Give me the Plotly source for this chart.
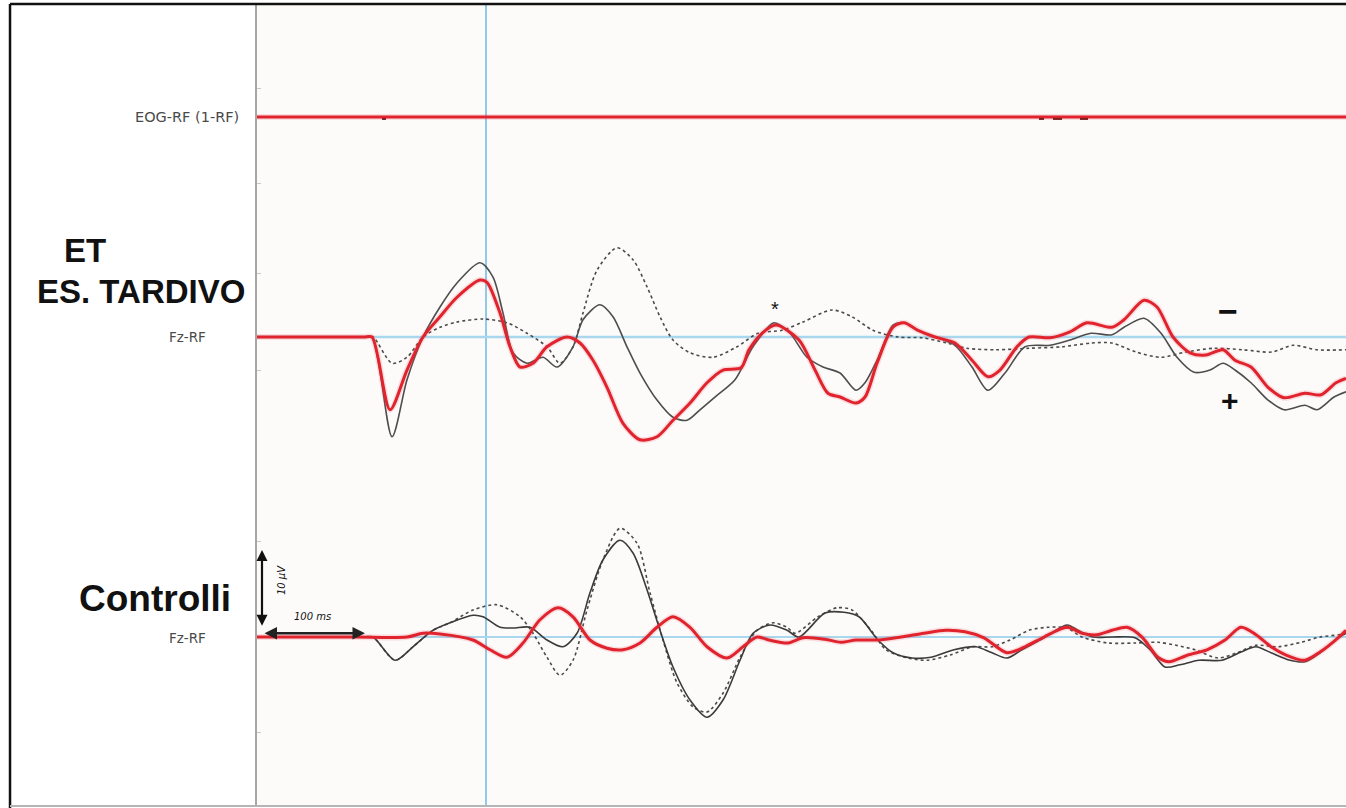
import numpy as np
import plotly.graph_objects as go

# ---------------- data (time in ms relative to marker, amplitude in µV, negative up) -------------
et_red_t = [-229, -180, -140, -122, -114, -96, -79, -63, -46, -29, -6, 1, 14, 24, 34, 47, 61, 81, 94, 107, 121, 137, 154,
            171, 187, 204, 221, 237, 255, 263, 276, 290, 313, 329, 342, 354, 370, 379, 391, 407, 418, 432, 449,
            469, 486, 502, 514, 531, 543, 564, 584, 601, 626, 638, 658, 671, 687, 704, 720, 737, 749, 765, 782,
            798, 819, 835, 850, 860]
et_red_v = [0, 0, 0, 0, 0, 9.7, 4.4, 0, -2.7, -5.3, -7.6, -7.3, -3.2, 1.3, 4.0, 3.5, 1.3, 0, 0.8, 3.1, 6.7, 11.5, 13.7,
            13.3, 11.1, 8.8, 6.1, 4.4, 4.1, 1.7, -0.5, -1.6, 0.4, 4.4, 7.5, 8.0, 8.8, 8.0, 3.5, -1.3, -1.9, -0.9, 0,
            0.8, 3.1, 5.3, 4.4, 1.3, 0, 0.1, -0.7, -1.9, -1.3, -2.3, -4.9, -4.0, 0, 2.1, 2.4, 1.7, 3.1, 4.0, 6.7,
            8.1, 7.5, 7.7, 6.1, 5.5]

et_black_t = [-229, -180, -140, -122, -114, -94, -79, -63, -46, -29, -6, 7, 17, 27, 41, 57, 71, 87, 97, 114, 127, 141, 154,
              171, 187, 201, 214, 229, 249, 267, 288, 304, 321, 337, 354, 370, 379, 391, 407, 418, 432, 449, 469,
              486, 502, 519, 539, 564, 584, 605, 626, 638, 658, 675, 691, 708, 724, 737, 749, 765, 782, 798, 819,
              831, 848, 860]
et_black_v = [0, 0, 0, 0, 0, 13.3, 5.7, 0, -4.0, -7.2, -9.9, -8.0, -3.2, 2.1, 3.5, 2.7, 4.0, 1.3, -2.3, -4.3, -2.7, 1.3, 4.8,
              8.4, 10.7, 11.1, 9.7, 8.0, 5.7, 1.3, -1.9, -0.5, 2.7, 4.0, 4.8, 7.1, 6.1, 3.1, -1.6, -1.9, -0.9, 0, 1.1,
              4.0, 7.1, 4.8, 1.3, 1.1, 0.4, -0.5, -0.3, -1.3, -2.5, -0.5, 2.7, 4.7, 4.4, 3.5, 4.4, 6.1, 8.4, 9.7, 9.1,
              9.7, 8.0, 7.3]

et_dot_t = [-229, -180, -140, -122, -113, -94, -79, -63, -46, -29, -3, 21, 41, 61, 74, 87, 97, 111, 131, 147, 161, 174, 187,
            204, 227, 251, 272, 296, 317, 346, 366, 387, 412, 436, 461, 481, 510, 543, 576, 605, 626, 650, 675,
            700, 728, 757, 786, 807, 831, 860]
et_dot_v = [0, 0, 0, 0, 0, 3.5, 2.7, 0, -1.3, -2.0, -2.4, -1.9, -0.5, 1.3, 3.5, 1.3, -3.2, -8.9, -11.9, -10.3, -6.7, -2.7, 0.4,
            2.1, 2.7, 1.3, -0.5, -0.9, -2.0, -3.6, -2.7, -0.9, 0, 0.1, 0.8, 1.5, 1.7, 1.5, 1.3, 0.8, 0.8, 2.0, 2.7,
            2.0, 1.5, 1.7, 2.0, 1.1, 1.7, 1.7]

ct_black_t = [-229, -180, -140, -122, -113, -91, -73, -53, -36, -13, -3, 14, 27, 44, 61, 77, 91, 104, 117, 134, 147, 161, 174,
              187, 204, 221, 237, 254, 267, 284, 301, 313, 339, 358, 373, 392, 407, 426, 445, 468, 490, 506, 521,
              536, 558, 581, 592, 607, 626, 649, 664, 679, 694, 713, 736, 755, 770, 785, 804, 819, 834, 853, 860]
ct_black_v = [0, 0, 0, 0, 0, 3.1, 1.3, -0.9, -1.9, -2.9, -2.7, -1.3, -1.2, -1.3, 0.4, 1.3, -0.5, -5.9, -10.3, -12.9, -11.2, -6.3, -0.9,
              4.0, 8.4, 10.7, 8.4, 3.1, -0.5, -1.6, -0.9, 0, -3.2, -3.3, -2.7, 0.4, 2.1, 2.8, 2.7, 1.7, 1.3, 2.1, 2.8,
              1.7, 0.1, -1.6, -0.9, 0, 0, 0.1, 1.7, 4.0, 3.7, 3.1, 3.1, 2.0, 1.3, 2.1, 3.1, 3.3, 2.1, 0, -0.5]

ct_dot_t = [-229, -180, -140, -122, -113, -91, -73, -53, -36, -13, 11, 34, 47, 61, 74, 87, 101, 117, 134, 151, 164, 177, 191,
            207, 221, 237, 254, 271, 287, 301, 309, 332, 351, 366, 385, 400, 422, 441, 464, 487, 506, 524, 543,
            562, 581, 596, 622, 649, 672, 690, 709, 732, 751, 770, 792, 815, 834, 853, 860]
ct_dot_v = [0, 0, 0, 0, 0, 3.1, 1.3, -0.9, -1.9, -3.6, -4.3, -2.7, -0.5, 2.7, 5.1, 3.1, -3.6, -10.3, -14.5, -12.5, -5.9, 0.4, 6.1,
            9.3, 10.0, 7.5, 2.7, -0.9, -1.9, -1.3, -0.5, -2.7, -3.9, -3.6, -0.9, 1.7, 2.8, 3.1, 2.4, 1.3, 1.3, 0.4, -0.9,
            -1.3, -1.2, 0, 0.8, 0.8, 0.7, 1.1, 1.7, 2.8, 2.1, 1.1, 1.3, 0.7, 0, -0.3, -0.5]

ct_red_t = [-229, -180, -130, -79, -63, -46, -13, 4, 21, 37, 54, 72, 87, 104, 121, 137, 154, 171, 187, 204, 221, 241,
            257, 271, 283, 302, 317, 339, 355, 370, 392, 415, 438, 460, 479, 498, 521, 539, 558, 581, 596, 611,
            626, 641, 656, 672, 683, 702, 721, 739, 755, 770, 785, 800, 819, 834, 853, 860]
ct_red_v = [0, 0, 0, 0, -0.5, -0.4, 0.4, 1.7, 2.7, 0.8, -2.3, -3.9, -2.7, 0.4, 1.5, 1.7, 0.8, -1.3, -2.7, -1.3, 1.3, 2.8,
            1.3, 0, 0.4, 0.8, 0.1, 0.3, 0.7, 0.4, 0.4, 0, -0.5, -0.9, -0.7, 0.1, 2.1, 1.3, 0, -1.3, -0.5, -0.3,
            -0.9, -1.3, 0, 2.7, 3.3, 2.4, 1.7, 0.4, -1.3, -0.3, 1.3, 2.4, 3.1, 2.0, 0, -0.9]

eog_t = [-229, 860]
eog_v = [0, 0]
eog_blip_t = [-104, -100, None, 553, 558, None, 567, 576, None, 594, 602]
eog_blip_v = [0.25, 0.25, None, 0.25, 0.25, None, 0.25, 0.25, None, 0.25, 0.25]

# channel offsets (µV) on the shared vertical axis
OFF_EOG = -29.33
OFF_ET = 0.0
OFF_CTRL = 40.0

left_ticks = [-33.2, -20.5, -8.5, 4.4, 27.3, 52.7]

RED = "#e0232d"
BLACK = "#3b3b3b"
DOT = "#4a4a4a"

fig = go.Figure()


def add(t, v, off, color, width, dash="solid", glow=False):
    y = [None if a is None else a + off for a in v]
    if glow:
        fig.add_trace(go.Scatter(x=t, y=y, mode="lines", hoverinfo="skip", showlegend=False,
                                 line=dict(color="rgba(235,90,100,0.18)", width=width + 3,
                                           shape="spline", smoothing=0.8)))
    fig.add_trace(go.Scatter(x=t, y=y, mode="lines", showlegend=False,
                             line=dict(color=color, width=width, dash=dash,
                                       shape="spline", smoothing=0.8)))


# EOG
add(eog_t, eog_v, OFF_EOG, RED, 3, glow=True)
fig.add_trace(go.Scatter(x=eog_blip_t, y=[None if a is None else a + OFF_EOG for a in eog_blip_v],
                         mode="lines", showlegend=False, line=dict(color="#7a1f1f", width=2)))
# ET
add(et_dot_t, et_dot_v, OFF_ET, DOT, 1.6, dash="dot")
add(et_black_t, et_black_v, OFF_ET, "#4d4d4d", 1.6)
add(et_red_t, et_red_v, OFF_ET, RED, 3, glow=True)
# Controls
add(ct_dot_t, ct_dot_v, OFF_CTRL, DOT, 1.6, dash="dot")
add(ct_black_t, ct_black_v, OFF_CTRL, BLACK, 1.6)
add(ct_red_t, ct_red_v, OFF_CTRL, RED, 3, glow=True)

X0, X1 = -229, 860
Y_TOP, Y_BOT = -44.27, 62.53

shapes = [
    dict(type="line", xref="x", yref="paper", x0=0, x1=0, y0=0, y1=1,
         line=dict(color="#8fcbe6", width=2), layer="below"),
    dict(type="line", xref="x", yref="y", x0=X0, x1=X1, y0=OFF_ET, y1=OFF_ET,
         line=dict(color="#a9d8ee", width=2.5), layer="below"),
    dict(type="line", xref="x", yref="y", x0=X0, x1=X1, y0=OFF_CTRL, y1=OFF_CTRL,
         line=dict(color="#a9d8ee", width=2), layer="below"),
    # frame
    dict(type="line", xref="paper", yref="paper", x0=-0.2268, x1=1.0, y0=1.0012, y1=1.0012,
         line=dict(color="#111111", width=2.5)),
    dict(type="line", xref="paper", yref="paper", x0=-0.2268, x1=-0.2268, y0=-0.01, y1=1.0012,
         line=dict(color="#111111", width=2.5)),
    dict(type="line", xref="paper", yref="paper", x0=-0.2268, x1=1.0, y0=0.0, y1=0.0,
         line=dict(color="#b5b5b5", width=2)),
]

small_font = dict(family="DejaVu Sans, Verdana, sans-serif", size=13.5, color="#4a4a4a")
big_font = dict(family="Liberation Sans, Arial, sans-serif", size=33, color="#111111")

annotations = [
    dict(xref="paper", yref="y", x=-0.0147, y=OFF_EOG, text="EOG-RF (1-RF)", showarrow=False,
         xanchor="right", yanchor="middle", font=dict(small_font, size=14.5)),
    dict(xref="paper", yref="y", x=-0.179, y=-11.6, text="<b>ET</b>", showarrow=False,
         xanchor="left", yanchor="middle", font=big_font),
    dict(xref="paper", yref="y", x=-0.2039, y=-6.1, text="<b>ES. TARDIVO</b>", showarrow=False,
         xanchor="left", yanchor="middle", font=big_font),
    dict(xref="paper", yref="y", x=-0.045, y=OFF_ET, text="Fz-RF", showarrow=False,
         xanchor="right", yanchor="middle", font=small_font),
    dict(xref="paper", yref="y", x=-0.1653, y=34.9, text="<b>Controlli</b>", showarrow=False,
         xanchor="left", yanchor="middle", font=dict(big_font, size=37)),
    dict(xref="paper", yref="y", x=-0.045, y=OFF_CTRL + 0.1, text="Fz-RF", showarrow=False,
         xanchor="right", yanchor="middle", font=small_font),
    dict(xref="x", yref="y", x=289, y=-3.7, text="*", showarrow=False,
         font=dict(family="Liberation Sans, Arial", size=20, color="#111111")),
    dict(xref="x", yref="y", x=742, y=-3.5, text="<b>−</b>", showarrow=False,
         font=dict(family="Liberation Sans, Arial", size=34, color="#111111")),
    dict(xref="x", yref="y", x=744, y=8.4, text="<b>+</b>", showarrow=False,
         font=dict(family="Liberation Sans, Arial", size=30, color="#111111")),
    # scale bars
    dict(xref="x", yref="y", axref="x", ayref="y", x=-224, y=28.4, ax=-224, ay=38.7, text="",
         showarrow=True, arrowhead=2, arrowside="end+start", arrowsize=1, arrowwidth=2.2,
         arrowcolor="#111111"),
    dict(xref="x", yref="y", axref="x", ayref="y", x=-121, y=39.5, ax=-223, ay=39.5, text="",
         showarrow=True, arrowhead=2, arrowside="end+start", arrowsize=1, arrowwidth=2.5,
         arrowcolor="#222222"),
    dict(xref="x", yref="y", x=-205, y=32.4, text="<i>10 µV</i>", showarrow=False, textangle=-90,
         font=dict(family="DejaVu Sans, sans-serif", size=10, color="#111111")),
    dict(xref="x", yref="y", x=-174, y=37.3, text="<i>100 ms</i>", showarrow=False,
         font=dict(family="DejaVu Sans, sans-serif", size=10, color="#111111")),
]

fig.update_layout(
    width=1346, height=808,
    margin=dict(l=257, r=0, t=5, b=2, pad=0),
    paper_bgcolor="#ffffff", plot_bgcolor="#fdfbfa",
    shapes=shapes, annotations=annotations, showlegend=False,
    xaxis=dict(range=[X0, X1], showgrid=False, zeroline=False, showticklabels=False,
               showline=False, ticks=""),
    yaxis=dict(range=[Y_BOT, Y_TOP], showgrid=False, zeroline=False, showticklabels=False,
               showline=True, linecolor="#a6a6a6", linewidth=1.5,
               ticks="inside", tickvals=left_ticks, ticklen=4, tickcolor="#c8c8c8", tickwidth=1),
)

fig.write_html("out.html", config={"displayModeBar": False},
               post_script="document.body.style.margin='0px';document.body.style.overflow='hidden';")
